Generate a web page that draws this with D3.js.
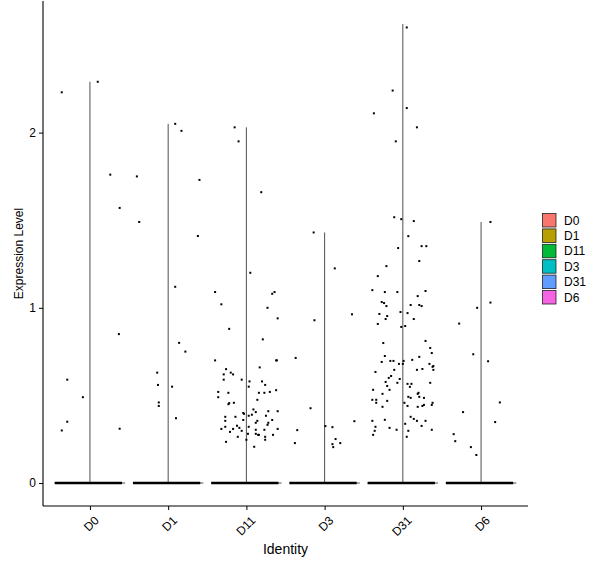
<!DOCTYPE html>
<html>
<head>
<meta charset="utf-8">
<script src="https://cdn.jsdelivr.net/npm/d3@7"></script>
<style>
  body { margin: 0; background: #fff; }
  text { font-family: "Liberation Sans", Arial, sans-serif; }
</style>
</head>
<body>
<div id="chart"></div>
<script>
// groups (identities)
var categories = ["D0", "D1", "D11", "D3", "D31", "D6"];
var colors = ["#F8766D", "#B79F00", "#00BA38", "#00BFC4", "#619CFF", "#F564E3"];
var yTicks = [0, 1, 2];

// highest value per group (top of the violin)
var maxValues = [2.29, 2.05, 2.03, 1.43, 2.62, 1.49];

// non-zero cells: [value, jitter] (jitter in category widths)
var ptsD0 = [[2.23,-0.36],[2.29,0.10],[0.59,-0.29],[0.35,-0.29],[0.30,-0.36],[0.49,-0.09],
  [1.76,0.26],[1.57,0.38],[0.85,0.37],[0.31,0.38]];
var ptsD1 = [[2.05,0.09],[2.01,0.17],[1.75,-0.40],[1.49,-0.37],[1.73,0.40],[1.41,0.38],
  [1.12,0.09],[0.80,0.14],[0.75,0.22],[0.63,-0.14],[0.56,-0.13],[0.55,0.05],[0.46,-0.12],
  [0.44,-0.12],[0.37,0.10]];
var ptsD11 = [[2.03,-0.15],[1.95,-0.10],[1.66,0.19],[1.20,0.05],[1.09,-0.40],[1.09,0.36],
  [1.08,0.33],[1.02,-0.32],[1.00,0.27],[0.94,0.40],[0.88,-0.22],[0.82,0.21],[0.70,-0.40],
  [0.70,0.38],[0.70,0.39],[0.66,0.17],[0.65,-0.26],[0.63,-0.20],[0.62,-0.17],[0.62,-0.29],
  [0.59,-0.29],[0.59,-0.06],[0.58,0.04],[0.55,0.03],[0.58,0.20],[0.56,0.24],[0.52,-0.36],
  [0.49,-0.36],[0.515,-0.23],[0.515,0.16],[0.515,0.23],[0.52,0.30],[0.53,0.38],[0.475,0.14],
  [0.45,-0.23],[0.456,-0.22],[0.458,-0.16],[0.42,0.09],[0.40,-0.04],[0.395,-0.03],[0.405,0.12],
  [0.39,0.07],[0.384,0.03],[0.41,0.28],[0.41,0.40],[0.384,0.25],[0.378,-0.27],[0.378,-0.14],
  [0.355,-0.27],[0.36,-0.04],[0.355,0.14],[0.344,0.12],[0.36,0.33],[0.344,0.28],[0.332,0.27],
  [0.321,-0.27],[0.309,-0.32],[0.327,-0.12],[0.315,-0.09],[0.309,-0.17],[0.292,-0.21],
  [0.298,-0.06],[0.321,0.03],[0.304,0.12],[0.304,0.23],[0.309,0.40],[0.281,0.02],[0.281,0.12],
  [0.275,0.15],[0.275,0.16],[0.275,0.34],[0.264,0.24],[0.247,0.24],[0.264,-0.11],[0.247,0.00],
  [0.235,-0.26],[0.207,0.10]];
var ptsD3 = [[1.43,-0.14],[1.225,0.13],[0.963,0.35],[0.929,-0.13],[0.714,-0.37],[0.427,-0.18],
  [0.353,0.38],[0.302,-0.35],[0.325,0.01],[0.319,0.10],[0.251,0.14],[0.228,0.20],[0.228,-0.38],
  [0.222,0.10],[0.205,0.11]];
var ptsD31 = [[2.60,0.05],[2.24,-0.13],[2.11,-0.37],[2.14,0.05],[2.03,0.18],[1.95,-0.09],
  [1.517,-0.11],[1.506,-0.02],[1.495,0.14],[1.409,0.07],[1.341,-0.06],[1.352,0.24],[1.352,0.30],
  [1.267,0.21],[1.238,-0.21],[1.181,-0.32],[1.101,-0.39],[1.090,-0.23],[1.090,-0.07],[1.096,0.29],
  [1.067,0.19],[1.033,-0.27],[1.027,-0.24],[1.010,-0.21],[1.016,0.10],[1.016,0.21],[1.010,0.24],
  [0.965,-0.30],[0.953,-0.20],[0.936,-0.22],[0.976,-0.03],[0.970,0.06],[0.936,0.14],[0.908,-0.32],
  [0.891,-0.02],[0.896,0.03],[0.811,0.29],[0.799,-0.25],[0.771,0.35],[0.742,0.37],[0.725,-0.23],
  [0.720,0.21],[0.691,-0.27],[0.697,-0.16],[0.697,-0.12],[0.697,0.01],[0.680,0.00],[0.680,-0.05],
  [0.703,0.12],[0.680,0.34],[0.668,0.39],[0.663,0.38],[0.646,0.39],[0.646,-0.11],[0.646,0.18],
  [0.651,0.25],[0.634,-0.35],[0.611,-0.15],[0.600,-0.18],[0.594,-0.04],[0.577,-0.22],[0.572,-0.07],
  [0.566,0.06],[0.566,0.11],[0.549,0.09],[0.572,0.35],[0.554,-0.20],[0.532,-0.17],[0.532,-0.38],
  [0.509,-0.26],[0.515,0.20],[0.509,0.19],[0.492,0.07],[0.486,0.10],[0.492,0.21],[0.486,0.27],
  [0.475,-0.39],[0.475,-0.34],[0.458,-0.34],[0.469,-0.20],[0.458,0.02],[0.440,0.06],[0.435,0.19],
  [0.446,0.27],[0.440,0.25],[0.458,0.38],[0.446,0.37],[0.435,-0.26],[0.378,0.10],[0.366,0.14],
  [0.355,0.18],[0.355,0.29],[0.361,-0.23],[0.355,-0.39],[0.338,0.03],[0.326,0.24],[0.321,-0.35],
  [0.315,-0.17],[0.304,-0.08],[0.304,0.37],[0.298,0.07],[0.298,-0.36],[0.275,-0.38],[0.264,0.05]];
var ptsD6 = [[1.49,0.12],[1.03,0.12],[1.00,-0.05],[0.91,-0.28],[0.735,-0.10],[0.695,0.09],
  [0.46,0.24],[0.405,-0.23],[0.348,0.18],[0.279,-0.35],[0.239,-0.33],[0.205,-0.13],[0.16,-0.06]];
var points = [ptsD0, ptsD1, ptsD11, ptsD3, ptsD31, ptsD6];

// spread of the many zero-valued cells (jitter range), identical per group
var zeroBand = [-0.45, 0.41];

var width = 600, height = 568;
var m = { left: 43, right: 528, top: 1, bottom: 506 };

var svg = d3.select("#chart").append("svg")
  .attr("width", width).attr("height", height);

var x = d3.scalePoint().domain(categories).range([m.left, m.right]).padding(0.6);
var step = x.step();

var ymax = d3.max(maxValues), pad = ymax * 0.05;
var y = d3.scaleLinear().domain([-pad, ymax + pad]).range([m.bottom, m.top]);

var color = d3.scaleOrdinal().domain(categories).range(colors);

// violins (all mass at zero => flat base + thin tail)
var g = svg.append("g");
categories.forEach(function(c, i) {
  var cx = x(c);
  var d = "M" + (cx - 0.45 * step) + "," + y(0) + "L" + (cx + 0.45 * step) + "," + y(0) +
          "M" + cx + "," + y(0) + "L" + cx + "," + y(maxValues[i]);
  g.append("path").attr("d", d)
    .attr("fill", "none").attr("stroke", "#222").attr("stroke-width", 0.8);

  // zero cells overlapping into a thick band
  g.append("line")
    .attr("x1", cx + zeroBand[0] * step).attr("x2", cx + zeroBand[1] * step)
    .attr("y1", y(0)).attr("y2", y(0))
    .attr("stroke", "#000").attr("stroke-width", 2.6);

  g.selectAll(null).data(points[i]).enter().append("rect")
    .attr("x", function(p) { return cx + p[1] * step - 1; })
    .attr("y", function(p) { return y(p[0]) - 1; })
    .attr("width", 2).attr("height", 2)
    .attr("fill", "#000");
});

// axes
var yAxis = svg.append("g").attr("transform", "translate(" + m.left + ",0)")
  .call(d3.axisLeft(y).tickValues(yTicks).tickSize(4).tickPadding(3).tickFormat(d3.format("d")));
var xAxis = svg.append("g").attr("transform", "translate(0," + m.bottom + ")")
  .call(d3.axisBottom(x).tickSize(4).tickSizeOuter(0));

[yAxis, xAxis].forEach(function(a) {
  a.select(".domain").remove();
  a.selectAll(".tick line").attr("stroke", "#000");
  a.selectAll("text").attr("fill", "#000").style("font-size", "12px");
});
svg.append("line").attr("x1", m.left).attr("x2", m.left).attr("y1", m.top).attr("y2", m.bottom)
  .attr("stroke", "#000").attr("stroke-width", 1.1);
svg.append("line").attr("x1", m.left).attr("x2", m.right).attr("y1", m.bottom).attr("y2", m.bottom)
  .attr("stroke", "#000").attr("stroke-width", 1.1);

xAxis.selectAll(".tick text")
  .attr("text-anchor", "end")
  .attr("dy", null)
  .attr("y", 0)
  .attr("transform", "translate(3,9) rotate(-45)")
  .attr("dominant-baseline", "hanging");

// titles
svg.append("text").attr("x", (m.left + m.right) / 2).attr("y", 554)
  .attr("text-anchor", "middle").style("font-size", "14px").text("Identity");
svg.append("text")
  .attr("transform", "translate(23," + (m.top + m.bottom) / 2 + ") rotate(-90)")
  .attr("text-anchor", "middle").style("font-size", "12px").text("Expression Level");

// legend
var leg = svg.append("g").attr("transform", "translate(542,213)");
var item = leg.selectAll("g").data(categories).enter().append("g")
  .attr("transform", function(d, i) { return "translate(0," + i * 15.4 + ")"; });
item.append("rect").attr("x", 0.5).attr("y", 0.5).attr("width", 13.5).attr("height", 13.5)
  .attr("fill", function(d) { return color(d); }).attr("stroke", "#222").attr("stroke-width", 0.8);
item.append("text").attr("x", 22).attr("y", 7.5).attr("dy", "0.35em")
  .style("font-size", "12px").text(function(d) { return d; });
</script>
</body>
</html>
